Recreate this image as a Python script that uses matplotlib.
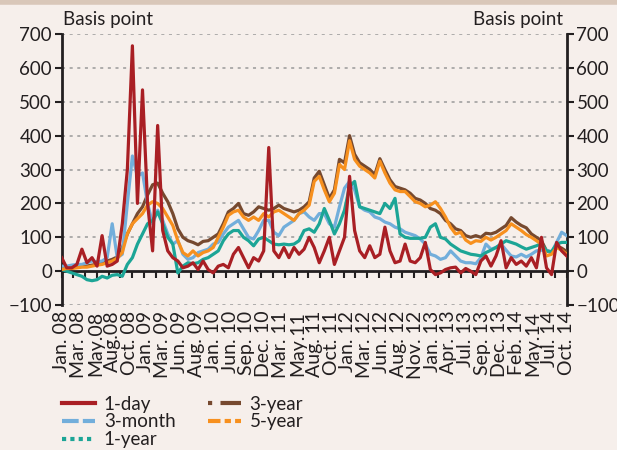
import numpy as np
import matplotlib
matplotlib.use("Agg")
import matplotlib.pyplot as plt
from matplotlib.lines import Line2D

plt.rcParams['font.family'] = ['Lato', 'DejaVu Sans']

# tick labels along the bottom (equally spaced category labels)
month_labels = ['Jan. 08', 'Mar. 08', 'May.08', 'Aug.08', 'Oct. 08', 'Jan. 09', 'Mar. 09',
                'Jun. 09', 'Aug. 09', 'Jan. 10', 'Jun. 10', 'Sep. 10', 'Dec. 10', 'Mar. 11',
                'May.11', 'Aug. 11', 'Oct. 11', 'Jan. 12', 'Mar. 12', 'Jun. 12', 'Aug. 12',
                'Nov. 12', 'Jan. 13', 'Apr. 13', 'Jul. 13', 'Sep. 13', 'Dec. 13', 'Feb. 14',
                'May.14', 'Jul. 14', 'Oct. 14']

# spreads in basis points (101 samples from Jan.08 to Oct.14)
one_day = [40, 10, 10, 20, 65, 25, 40, 15, 105, 15,
           20, 30, 140, 300, 665, 200, 535, 200, 60, 430,
           120, 60, 40, 30, 10, 15, 25, 5, 30, 5,
           -5, 15, 20, 10, 50, 70, 40, 10, 40, 30,
           60, 365, 60, 40, 70, 40, 70, 50, 65, 100,
           70, 25, 60, 100, 20, 60, 100, 280, 120, 60,
           40, 75, 40, 50, 130, 60, 25, 30, 80, 30,
           25, 40, 85, 5, -10, -5, 5, 10, 12, -5,
           8, 0, -10, 30, 45, 15, 45, 90, 10, 40,
           20, 30, 15, 40, 10, 100, 10, -10, 85, 60,
           45]

three_month = [15, 15, 18, 20, 20, 25, 30, 28, 30, 40,
               140, 40, 50, 200, 340, 280, 290, 200, 140, 180,
               150, 110, 80, 90, 50, 35, 40, 55, 60, 65,
               80, 85, 110, 130, 140, 150, 125, 100, 95, 120,
               150, 150, 115, 105, 130, 140, 150, 170, 175, 160,
               150, 170, 170, 140, 130, 190, 245, 265, 240, 190,
               180, 175, 160, 155, 145, 140, 130, 125, 115, 110,
               105, 95, 80, 50, 45, 35, 40, 60, 45, 30,
               25, 25, 22, 40, 80, 65, 70, 80, 62, 45,
               42, 50, 42, 50, 60, 62, 62, 55, 85, 115,
               105]

one_year = [5, 0, -5, -10, -15, -25, -28, -25, -15, -20,
            -12, -10, -15, 20, 40, 80, 110, 140, 150, 175,
            140, 100, 80, -5, 15, 25, 22, 25, 35, 40,
            50, 60, 90, 110, 120, 120, 100, 90, 75, 95,
            100, 90, 80, 78, 80, 78, 80, 90, 120, 125,
            115, 140, 185, 150, 110, 140, 180, 250, 265, 190,
            185, 180, 175, 170, 200, 185, 215, 110, 100, 97,
            97, 97, 100, 130, 140, 100, 95, 80, 70, 60,
            55, 50, 48, 45, 55, 62, 70, 80, 90, 85,
            80, 72, 65, 70, 75, 82, 60, 58, 80, 85,
            85]

three_year = [8, 10, 10, 12, 14, 15, 18, 20, 25, 30,
              35, 42, 70, 110, 140, 170, 190, 225, 255, 260,
              230, 205, 170, 125, 100, 90, 85, 78, 88, 90,
              100, 110, 140, 175, 185, 200, 170, 165, 175, 190,
              185, 180, 185, 195, 185, 180, 175, 180, 190, 205,
              275, 295, 255, 215, 240, 330, 320, 400, 345, 320,
              310, 300, 285, 332, 300, 270, 250, 245, 240, 230,
              215, 210, 200, 185, 180, 170, 150, 140, 125, 120,
              105, 100, 105, 100, 112, 110, 115, 125, 135, 158,
              145, 135, 128, 110, 100, 90, 60, 55, 75, 68,
              58]

five_year = [5, 8, 8, 10, 12, 12, 15, 18, 20, 25,
             30, 38, 55, 110, 140, 155, 170, 195, 205, 200,
             185, 160, 135, 90, 55, 45, 60, 45, 55, 60,
             70, 100, 130, 165, 175, 180, 160, 150, 160, 150,
             170, 160, 175, 180, 170, 160, 150, 170, 180, 195,
             265, 280, 240, 205, 230, 315, 300, 385, 330, 310,
             300, 290, 275, 325, 290, 260, 240, 235, 235, 220,
             205, 200, 190, 195, 205, 185, 160, 130, 110, 115,
             92, 82, 90, 88, 100, 92, 100, 110, 120, 140,
             130, 120, 108, 100, 90, 80, 45, 50, 70, 62,
             50]

x = np.linspace(0, len(month_labels) - 1, len(one_day))

bg = '#F6EFEB'
ink = '#231F20'
fig = plt.figure(figsize=(6.17, 4.5), dpi=100, facecolor=bg)
ax = fig.add_axes([0.1, 0.322, 0.8185, 0.6025], facecolor=bg)

lw = 2.3
ax.plot(x, three_year, color='#76492F', lw=lw, zorder=3)
ax.plot(x, three_month, color='#72AEDB', lw=lw, zorder=4)
ax.plot(x, one_year, color='#1CA596', lw=lw, zorder=5)
ax.plot(x, five_year, color='#F7901E', lw=lw, zorder=6)
ax.plot(x, one_day, color='#A91F24', lw=lw, zorder=7)

ax.set_ylim(-100, 700)
ax.set_xlim(0, len(month_labels) - 1)
ax.set_yticks(range(-100, 701, 100))
ax.set_yticklabels(['\u2212100'] + [str(v) for v in range(0, 701, 100)])
for v in list(range(100, 701, 100)) + [-100]:
    ax.axhline(v, color='#9A9A9A', lw=1.1, ls=(0, (2, 3)), zorder=1)

# x axis line drawn at zero with small downward ticks
ax.spines['top'].set_visible(False)
ax.spines['bottom'].set_position(('data', 0))
ax.spines['bottom'].set_linewidth(2)
ax.spines['bottom'].set_color(ink)
ax.spines['bottom'].set_zorder(2)
ax.set_xticks(np.linspace(0, len(month_labels) - 1, 44))
ax.tick_params(axis='x', direction='out', length=5, width=1.5, color=ink,
               labelbottom=False)
for s in ['left', 'right']:
    ax.spines[s].set_linewidth(2)
    ax.spines[s].set_color(ink)
ax.tick_params(axis='y', direction='out', length=5, width=1.5, color=ink,
               labelsize=13.5, labelcolor=ink, pad=2, right=True,
               labelright=True)

# category labels sitting under the -100 line
sec = ax.secondary_xaxis('bottom')
sec.set_xticks(range(len(month_labels)))
sec.set_xticklabels(month_labels, rotation=90, fontsize=14, color=ink)
sec.tick_params(length=0, pad=4)
sec.spines['bottom'].set_visible(False)

fig.text(0.102, 0.956, 'Basis point', fontsize=13.5, color=ink, va='center')
fig.text(0.913, 0.956, 'Basis point', fontsize=13.5, color=ink, va='center',
         ha='right')

handles = [
    Line2D([], [], color='#A91F24', lw=3),
    Line2D([], [], color='#72AEDB', lw=3, ls=(0, (4, 1))),
    Line2D([], [], color='#1CA596', lw=3, ls=(0, (1, 1))),
    Line2D([], [], color='#76492F', lw=3, ls=(0, (1, 2, 6, 0.5))),
    Line2D([], [], color='#F7901E', lw=3, ls=(0, (3, 1, 1.5, 1))),
]
labels = ['1-day', '3-month', '1-year', '3-year', '5-year']
fig.legend(handles, labels, loc='upper left', bbox_to_anchor=(0.1, 0.121),
           ncol=2, frameon=False, fontsize=13.5, handlelength=1.8,
           handletextpad=0.45, columnspacing=1.7, labelspacing=0.05,
           borderaxespad=0, borderpad=0, labelcolor=ink)

# tan band along the top edge
fig.add_artist(Line2D([0, 1], [0.996, 0.996], color='#D9C7B9', lw=4,
                      transform=fig.transFigure))

fig.savefig('out.png', dpi=100, facecolor=bg)
